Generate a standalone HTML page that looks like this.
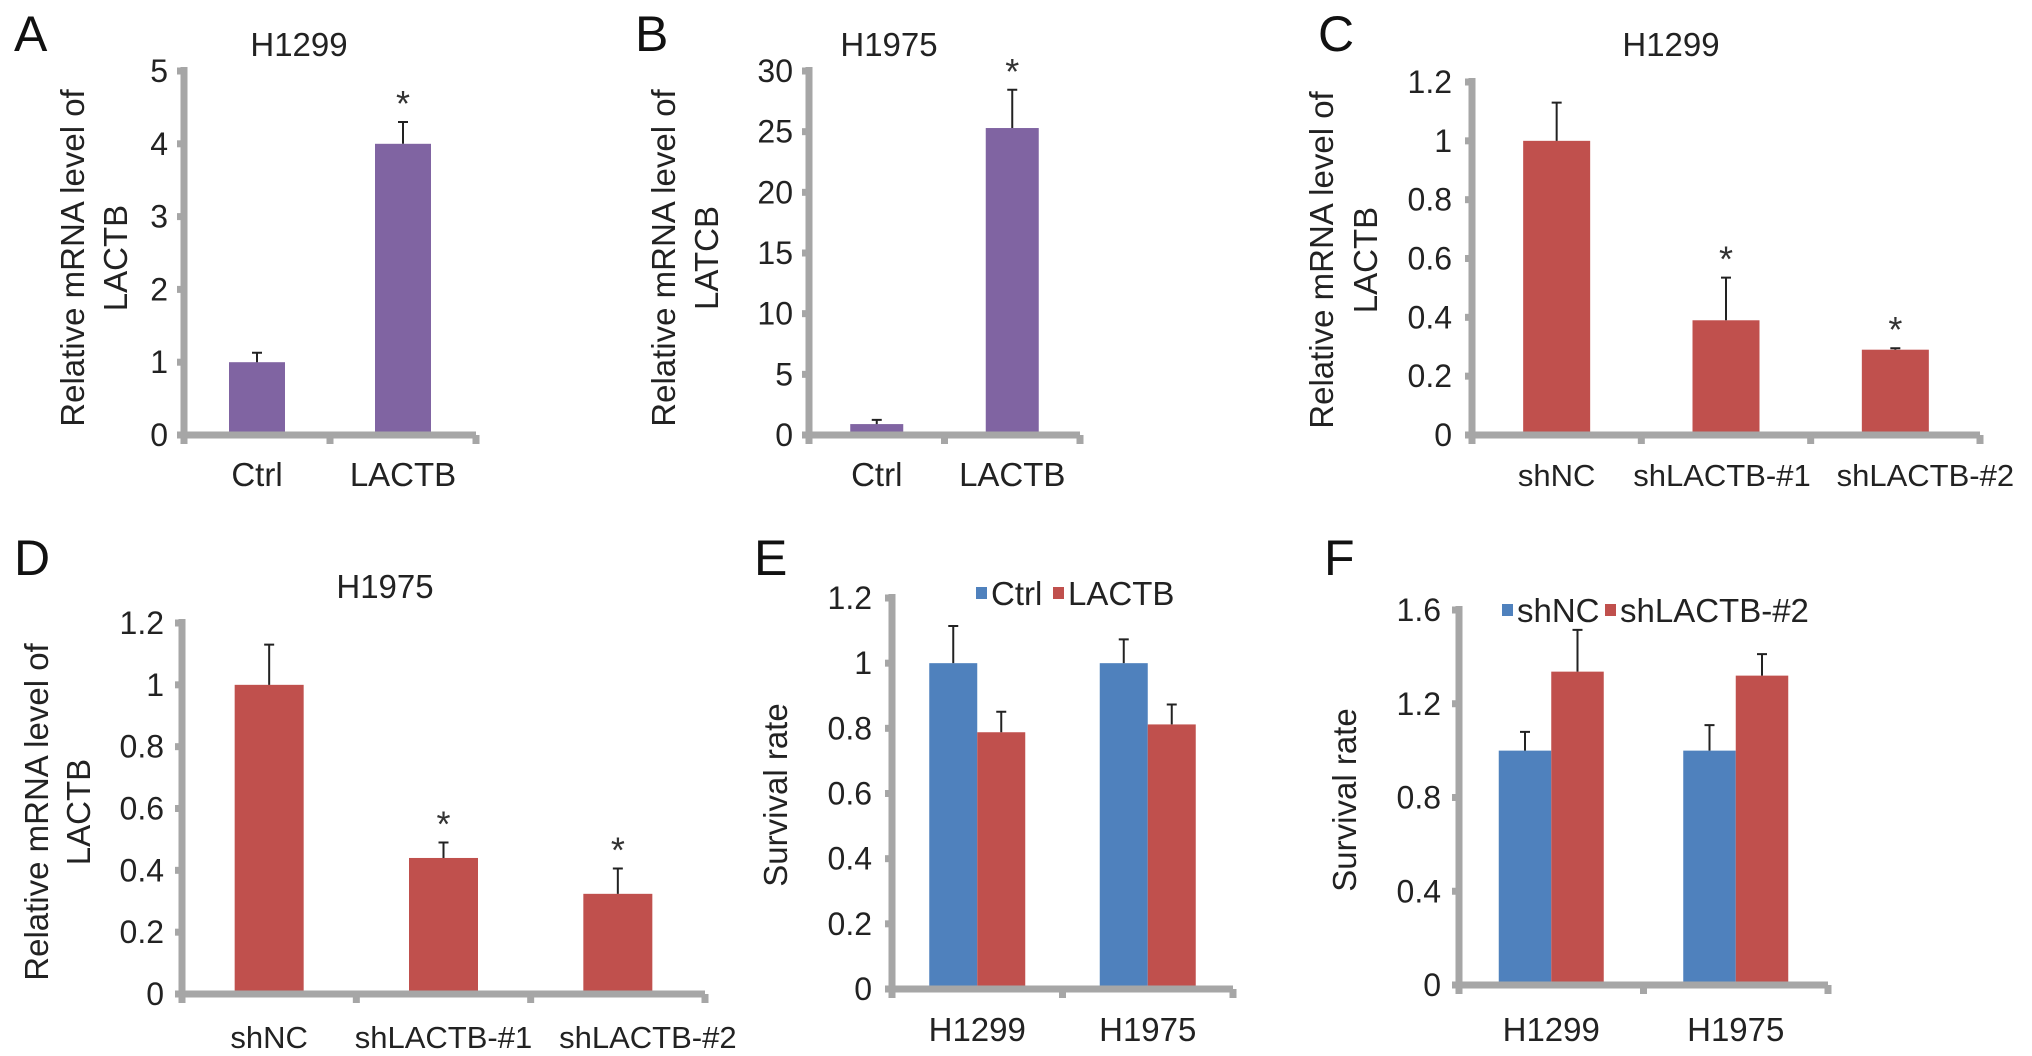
<!DOCTYPE html>
<html><head><meta charset="utf-8"><style>
html,body{margin:0;padding:0;background:#fff;}
svg{display:block;font-family:"Liberation Sans",Arial,sans-serif;}
</style></head><body>
<svg id="fig" width="2032" height="1056" viewBox="0 0 2032 1056" xmlns="http://www.w3.org/2000/svg"></svg>
<script>
// ---------- data ----------
const A_cats=["Ctrl","LACTB"];
const A_vals=[1.0,4.0];
const A_errs=[0.13,0.3];
const A_ticks=[0,1,2,3,4,5];
const A_sig=[false,true];

const B_cats=["Ctrl","LACTB"];
const B_vals=[0.9,25.3];
const B_errs=[0.35,3.15];
const B_ticks=[0,5,10,15,20,25,30];
const B_sig=[false,true];

const C_cats=["shNC","shLACTB-#1","shLACTB-#2"];
const C_vals=[1.0,0.39,0.29];
const C_errs=[0.13,0.145,0.005];
const C_ticks=[0,0.2,0.4,0.6,0.8,1,1.2];
const C_sig=[false,true,true];

const D_cats=["shNC","shLACTB-#1","shLACTB-#2"];
const D_vals=[1.0,0.44,0.324];
const D_errs=[0.13,0.05,0.082];
const D_ticks=[0,0.2,0.4,0.6,0.8,1,1.2];
const D_sig=[false,true,true];

const E_cats=["H1299","H1975"];
const E_series=["Ctrl","LACTB"];
const E_ctrl=[1.0,1.0];
const E_ctrlErr=[0.114,0.073];
const E_lactb=[0.788,0.812];
const E_lactbErr=[0.063,0.061];
const E_ticks=[0,0.2,0.4,0.6,0.8,1,1.2];

const F_cats=["H1299","H1975"];
const F_series=["shNC","shLACTB-#2"];
const F_nc=[1.0,1.0];
const F_ncErr=[0.08,0.109];
const F_sh=[1.337,1.32];
const F_shErr=[0.178,0.092];
const F_ticks=[0,0.4,0.8,1.2,1.6];

// ---------- drawing ----------
const NS="http://www.w3.org/2000/svg";
const svg=document.getElementById("fig");
const GRAY="#a6a6a6";
function mk(tag,attrs,parent,text){
  const e=document.createElementNS(NS,tag);
  for(const k in attrs)e.setAttribute(k,attrs[k]);
  if(text!==undefined)e.textContent=text;
  (parent||svg).appendChild(e);return e;
}
function fmt(v){return String(Math.round(v*10)/10);}

function panel(L){
  const g=mk("g",{});
  
  
  const max=L.ticks[L.ticks.length-1];
  const yS=v=>L.y0-v/max*(L.y0-L.yTop);
  const n=L.cats.length, band=(L.xEnd-L.x0)/n;
  const xC=i=>L.x0+band*(i+0.5);
  const let_=mk("text",{x:L.lx,y:L.ly,"font-size":50,fill:"#111"},g,L.letter);
  
  
  if(L.title){
    const t=mk("text",{x:L.tx,y:L.ty,"font-size":33,"text-anchor":"middle",fill:"#222"},g,L.title);
    
    
  }
  const yt=mk("text",{transform:`translate(${L.ytx},${L.yty}) rotate(-90)`,"font-size":33,"text-anchor":"middle",fill:"#222"},g);
  
  
  L.ylines.forEach((s,i)=>{mk("tspan",{x:0,y:i*L.ylh},yt,s);});
  const series=L.series;
  const gw=L.bw*series.length;
  series.forEach((s,si)=>{
    s.vals.forEach((v,i)=>{
      const x=xC(i)-gw/2+si*L.bw;
      const r=mk("rect",{x:x,y:yS(v),width:L.bw,height:L.y0-yS(v),fill:s.color},g);
      
      
      const cx=x+L.bw/2, ye=yS(v+s.errs[i]);
      const eb=mk("path",{d:`M${cx},${yS(v)}V${ye}M${cx-5},${ye}H${cx+5}`,stroke:"#222","stroke-width":2,fill:"none"},g);
      
      
      if(s.sig&&s.sig[i]){
        const a=mk("text",{x:cx,y:ye-6,"font-size":36,"text-anchor":"middle",fill:"#333"},g,"*");
        
        
      }
    });
  });
  const ax=mk("path",{d:`M${L.x0},${L.yTop-4}V${L.y0}H${L.xEnd}`,stroke:GRAY,"stroke-width":7,fill:"none"},g);
  
  
  L.ticks.forEach(t=>{
    const y=yS(t);
    mk("line",{x1:L.x0-7,x2:L.x0,y1:y,y2:y,stroke:GRAY,"stroke-width":7},g);
    const tl=mk("text",{x:L.tlx,y:y,"font-size":32,"text-anchor":"end","dominant-baseline":"central",fill:"#222"},g,fmt(t));
    
    
  });
  for(let i=0;i<=n;i++){
    const x=L.x0+band*i;
    mk("line",{x1:x,x2:x,y1:L.y0,y2:L.y0+9,stroke:GRAY,"stroke-width":7},g);
  }
  L.cats.forEach((c,i)=>{
    const cl=mk("text",{x:xC(i)+(L.catDx?L.catDx[i]:0),y:L.cy,"font-size":L.catFs||33,"text-anchor":"middle",fill:"#222"},g,c);
    
    
  });
  if(L.legend){
    L.legend.forEach(le=>{
      const sq=mk("rect",{x:le.x,y:le.y-6,width:11,height:12,fill:le.color},g);
      
      
      const lt=mk("text",{x:le.x+15,y:le.y+12,"font-size":33,fill:"#222"},g,le.label);
      
      
    });
  }
}
const PUR="#8064a2",RED="#c0504d",BLU="#4f81bd";
panel({id:"a",letter:"A",lx:14,ly:51,title:"H1299",tx:299,ty:56,ytx:84,yty:258,ylh:43,ylines:["Relative mRNA level of","LACTB"],
  x0:184,xEnd:476,yTop:71,y0:435,ticks:A_ticks,tlx:168,cats:A_cats,cy:486,bw:56,
  series:[{name:"v",vals:A_vals,errs:A_errs,color:PUR,sig:A_sig}]});
panel({id:"b",letter:"B",lx:635,ly:51,title:"H1975",tx:889,ty:56,ytx:675,yty:258,ylh:43,ylines:["Relative mRNA level of","LATCB"],
  x0:809,xEnd:1080,yTop:71,y0:435,ticks:B_ticks,tlx:793,cats:B_cats,cy:486,bw:53,
  series:[{name:"v",vals:B_vals,errs:B_errs,color:PUR,sig:B_sig}]});
panel({id:"c",letter:"C",lx:1318,ly:51,title:"H1299",tx:1671,ty:56,ytx:1333,yty:260,ylh:44,ylines:["Relative mRNA level of","LACTB"],
  x0:1472,xEnd:1980,yTop:82,y0:435,ticks:C_ticks,tlx:1452,cats:C_cats,cy:486,bw:67,catFs:31,catDx:[0,-4,30],
  series:[{name:"v",vals:C_vals,errs:C_errs,color:RED,sig:C_sig}]});
panel({id:"d",letter:"D",lx:14,ly:575,title:"H1975",tx:385,ty:598,ytx:48,yty:812,ylh:42,ylines:["Relative mRNA level of","LACTB"],
  x0:182,xEnd:705,yTop:623,y0:994,ticks:D_ticks,tlx:164,cats:D_cats,cy:1048,bw:69,catFs:31,catDx:[0,0,30],
  series:[{name:"v",vals:D_vals,errs:D_errs,color:RED,sig:D_sig}]});
panel({id:"e",letter:"E",lx:754,ly:575,title:null,ytx:787,yty:795,ylh:0,ylines:["Survival rate"],
  x0:892,xEnd:1233,yTop:598,y0:989,ticks:E_ticks,tlx:872,cats:E_cats,cy:1041,bw:48,
  series:[{name:E_series[0],vals:E_ctrl,errs:E_ctrlErr,color:BLU},{name:E_series[1],vals:E_lactb,errs:E_lactbErr,color:RED}],
  legend:[{x:976,y:593,color:BLU,label:E_series[0]},{x:1053,y:593,color:RED,label:E_series[1]}]});
panel({id:"f",letter:"F",lx:1324,ly:575,title:null,ytx:1356,yty:800,ylh:0,ylines:["Survival rate"],
  x0:1459,xEnd:1828,yTop:610,y0:985,ticks:F_ticks,tlx:1441,cats:F_cats,cy:1041,bw:52.5,
  series:[{name:F_series[0],vals:F_nc,errs:F_ncErr,color:BLU},{name:F_series[1],vals:F_sh,errs:F_shErr,color:RED}],
  legend:[{x:1502,y:610,color:BLU,label:F_series[0]},{x:1605,y:610,color:RED,label:F_series[1]}]});
</script>
</body></html>
